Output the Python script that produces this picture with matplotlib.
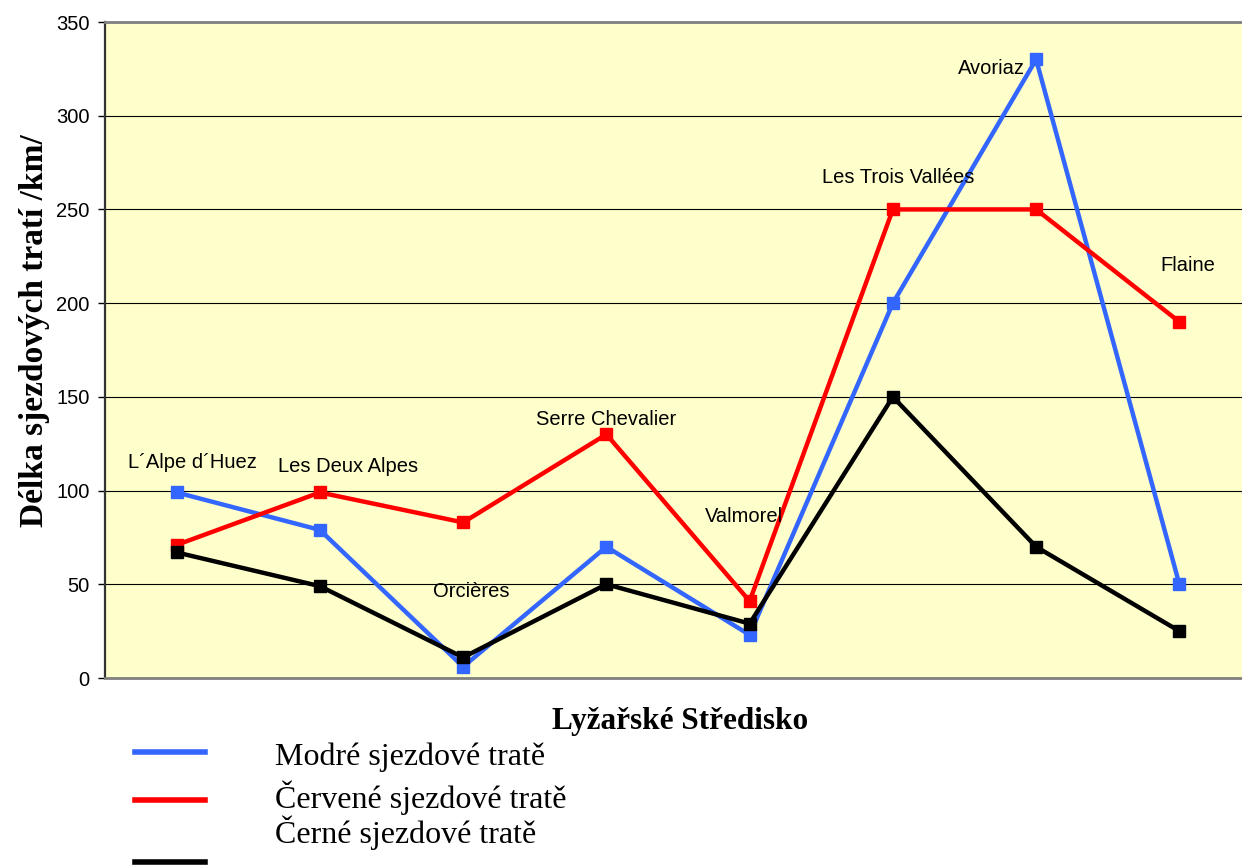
import matplotlib
matplotlib.use("Agg")
import matplotlib.pyplot as plt
from matplotlib.lines import Line2D

resorts = ["L´Alpe d´Huez", "Les Deux Alpes", "Orcières", "Serre Chevalier",
           "Valmorel", "Les Trois Vallées", "Avoriaz", "Flaine"]
blue = [99, 79, 6, 70, 23, 200, 330, 50]
red = [71, 99, 83, 130, 41, 250, 250, 190]
black = [67, 49, 11, 50, 29, 150, 70, 25]
yticks = [0, 50, 100, 150, 200, 250, 300, 350]
series_names = ["Modré sjezdové tratě", "Červené sjezdové tratě", "Černé sjezdové tratě"]

# label placement (x offset in category units, y in data units)
label_pos = [(0.11, 115), (0.2, 113), (0.06, 46), (0.0, 138),
             (-0.04, 86), (0.04, 267), (-0.31, 325), (0.06, 220)]

W, H = 1242, 865
fig = plt.figure(figsize=(W / 100, H / 100), dpi=100)
fig.patch.set_facecolor("white")
left, right, top, bottom = 105, 1251, 22, 678
ax = fig.add_axes([left / W, 1 - bottom / H, (right - left) / W, (bottom - top) / H])
ax.set_facecolor("#FFFFCC")

x = list(range(len(resorts)))
colors = ["#3366FF", "#FF0000", "#000000"]
for vals, c in zip([blue, red, black], colors):
    ax.plot(x, vals, color=c, lw=3.2, marker="s", ms=8, mec=c, mfc=c, zorder=3)

for i, (name, (dx, yy)) in enumerate(zip(resorts, label_pos)):
    ax.text(i + dx, yy, name, ha="center", va="center", fontsize=14.5,
            family="Liberation Sans", zorder=4)

ax.set_xlim(-0.5, 7.5)
ax.set_ylim(0, 350)
ax.set_yticks(yticks)
ax.set_yticklabels([str(v) for v in yticks], fontsize=14.5, family="Liberation Sans")
ax.set_xticks([])
ax.yaxis.grid(True, color="black", lw=0.8)
ax.set_axisbelow(True)
ax.tick_params(axis="y", direction="out", length=5, width=1, pad=6)
ax.spines["left"].set_color("#333333")
ax.spines["left"].set_linewidth(1.6)
for s in ["top", "bottom"]:
    ax.spines[s].set_color("#808080")
    ax.spines[s].set_linewidth(2)
ax.spines["right"].set_visible(False)

fig.text(35 / W, 1 - 331 / H, "Délka sjezdových tratí /km/", rotation=90,
         ha="center", va="center", fontsize=24, fontweight="bold",
         family="Liberation Serif")
fig.text(680 / W, 1 - 722 / H, "Lyžařské Středisko", ha="center", va="center",
         fontsize=22.5, fontweight="bold", family="Liberation Serif")

# legend
leg_line_y = [752, 800, 862]
leg_text_y = [757, 798, 833]
for name, c, ly, ty in zip(series_names, colors, leg_line_y, leg_text_y):
    fig.add_artist(Line2D([135 / W, 205 / W], [1 - ly / H, 1 - ly / H],
                          color=c, lw=4, transform=fig.transFigure))
    fig.text(275 / W, 1 - ty / H, name, ha="left", va="center", fontsize=23,
             family="Liberation Serif")

fig.savefig("out.png", dpi=100)
